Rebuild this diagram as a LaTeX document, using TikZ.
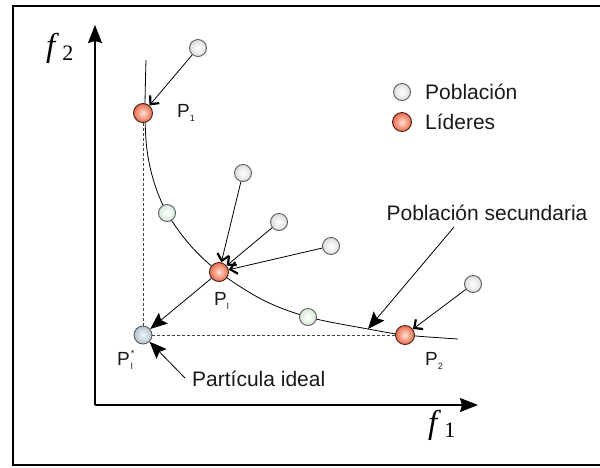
\documentclass[tikz,border=0pt]{standalone}
\usepackage{fontspec}
\setmainfont{Liberation Sans}
\newfontfamily\serifit{Liberation Serif}
\usetikzlibrary{arrows.meta}
\definecolor{popout}{HTML}{DCDDDF}
\definecolor{leadout}{HTML}{EC6A4A}
\definecolor{leadin}{HTML}{FCE0D4}
\definecolor{greenout}{HTML}{D6EAD8}
\definecolor{idealout}{HTML}{AFC3D0}
\definecolor{rimgray}{HTML}{5A5B5E}
\tikzset{
  ball/.style={circle, draw=rimgray, line width=0.9pt, minimum size=17pt, inner sep=0pt, shading=radial},
  pop/.style={ball, inner color=white, outer color=popout},
  leader/.style={ball, minimum size=19pt, inner color=leadin, outer color=leadout, draw=black!70!leadout},
  greenb/.style={ball, inner color=white, outer color=greenout},
  ideal/.style={ball, minimum size=18pt, inner color=white!85!idealout, outer color=idealout},
  txt/.style={font=\fontsize{21}{24}\selectfont, inner sep=0pt, text=black!90},
  plab/.style={font=\fontsize{19}{20}\selectfont, inner sep=0pt, anchor=base west, text=black!90},
  thinarrow/.style={line width=0.8pt, -{Straight Barb[length=6.5pt,width=12pt,line width=2.2pt]}},
  bigarrow/.style={line width=0.8pt, -{Stealth[length=17pt,width=14pt,inset=3pt]}},
  axis/.style={line width=1.1pt, -{Stealth[length=18pt,width=14pt,inset=2pt]}}
}
\newcommand{\subsc}[1]{\raisebox{-4pt}{\fontsize{9}{9}\selectfont #1}}
\begin{document}
\begin{tikzpicture}[x=1pt,y=-1pt]
\useasboundingbox (0,0) rectangle (600,467);
% frame
\draw[line width=2pt] (13,5.5) rectangle (610,465);
% axes
\coordinate (O) at (95,405);
\coordinate (Y) at (95,25);
\coordinate (X) at (478,405);
\draw[axis] (O) -- (Y);
\draw[axis] (O) -- (X);
\node[anchor=base west, inner sep=0pt] (f2) at (46,56)
  {\fontsize{33}{33}\selectfont\serifit\itshape f\kern7pt\raisebox{-4pt}{\upshape\fontsize{22}{22}\selectfont 2}};
\node[anchor=base west, inner sep=0pt] (f1) at (428,433)
  {\fontsize{33}{33}\selectfont\serifit\itshape f\kern7pt\raisebox{-4pt}{\upshape\fontsize{22}{22}\selectfont 1}};
% front curve
\draw[line width=0.8pt] plot[smooth, tension=0.55] coordinates
  {(146,60) (145,113) (147,150) (154,182) (167,213) (190,245) (219,272) (263,300) (308,317) (368,329) (405,335) (458,339)};
\coordinate (ps) at (368,329);
% nodes
\node[pop] (q0) at (198,48) {};
\node[leader] (L1) at (143,113) {};
\node[greenb] (g1) at (167,213) {};
\node[pop] (q1) at (243,173) {};
\node[pop] (q2) at (279,222) {};
\node[pop] (q3) at (331,246) {};
\node[leader] (L2) at (219,272) {};
\node[greenb] (g2) at (308,317) {};
\node[ideal] (I) at (143,335) {};
\node[leader] (L3) at (405,335) {};
\node[pop] (q4) at (473,284) {};
% dashed guides
\draw[dash pattern=on 3pt off 2pt, line width=0.7pt, black!75] (L1) -- (I);
\draw[dash pattern=on 3pt off 2pt, line width=0.7pt, black!75] (I) -- (L3);
% thin arrows
\draw[thinarrow] (q0) -- (L1);
\draw[thinarrow] (q1) -- (L2);
\draw[thinarrow] (q2) -- (L2);
\draw[thinarrow] (q3) -- (L2);
\draw[thinarrow] (q4) -- (L3);
% big arrows
\draw[bigarrow] (L2) -- (I);
% labels
\node[plab] (p1) at (177,117) {P\subsc{1}};
\node[plab] (pl) at (214,305) {P\subsc{l}};
\node[plab] (pi) at (117,365) {P\kern1pt\rlap{\raisebox{9pt}{\fontsize{9}{9}\selectfont *}}\subsc{l}};
\node[plab] (p2) at (425,365) {P\subsc{2}};
\node[txt, anchor=west] (tideal) at (192,379) {Partícula ideal};
\node[txt] (tsec) at (487,213) {Población secundaria};
\coordinate (secstart) at (454,227);
\coordinate (idstart) at (185,378);
\draw[bigarrow] (secstart) -- (ps);
\draw[bigarrow] (idstart) -- (I);
% legend
\node[pop] (lg1) at (402,92) {};
\node[leader] (lg2) at (402,122) {};
\node[txt, anchor=west] (lt1) at (425,92) {Población};
\node[txt, anchor=west] (lt2) at (425,122) {Líderes};
\end{tikzpicture}
\end{document}
